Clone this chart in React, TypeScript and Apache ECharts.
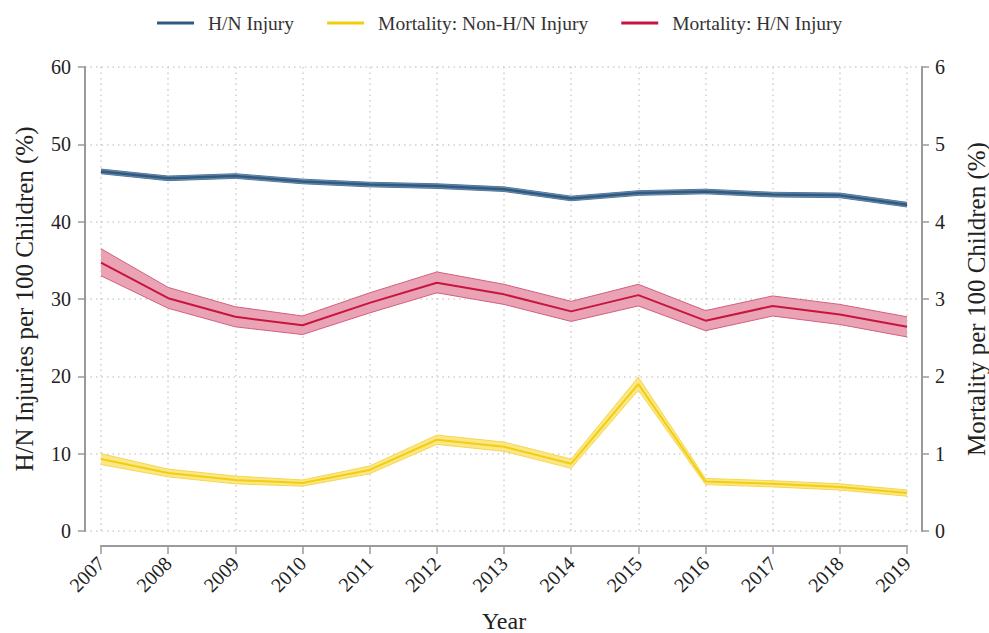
import React, { useEffect, useRef } from "react";
import * as echarts from "echarts";

const years = ["2007", "2008", "2009", "2010", "2011", "2012", "2013", "2014", "2015", "2016", "2017", "2018", "2019"];

// H/N injuries per 100 children (%), left axis
const hnInjury = [46.5, 45.6, 45.9, 45.2, 44.8, 44.6, 44.2, 43.0, 43.7, 43.9, 43.5, 43.4, 42.2];
const hnInjuryLow = [46.2, 45.3, 45.6, 44.9, 44.5, 44.3, 43.9, 42.7, 43.4, 43.6, 43.2, 43.1, 41.9];
const hnInjuryHigh = [46.8, 45.9, 46.2, 45.5, 45.1, 44.9, 44.5, 43.3, 44.0, 44.2, 43.8, 43.7, 42.5];

// Mortality per 100 children (%), right axis
const mortNonHN = [0.93, 0.75, 0.66, 0.62, 0.79, 1.18, 1.09, 0.87, 1.9, 0.64, 0.61, 0.57, 0.49];
const mortNonHNLow = [0.86, 0.7, 0.61, 0.58, 0.74, 1.12, 1.03, 0.81, 1.82, 0.6, 0.57, 0.53, 0.45];
const mortNonHNHigh = [1.0, 0.8, 0.71, 0.66, 0.84, 1.24, 1.15, 0.93, 1.99, 0.68, 0.65, 0.61, 0.53];

const mortHN = [3.47, 3.01, 2.77, 2.66, 2.95, 3.21, 3.06, 2.84, 3.05, 2.72, 2.91, 2.8, 2.64];
const mortHNLow = [3.3, 2.88, 2.64, 2.54, 2.82, 3.08, 2.93, 2.71, 2.91, 2.59, 2.78, 2.67, 2.51];
const mortHNHigh = [3.65, 3.15, 2.9, 2.78, 3.08, 3.35, 3.19, 2.97, 3.19, 2.85, 3.04, 2.93, 2.77];

const leftTicks = [0, 60, 10];
const rightTicks = [0, 6, 1];

const FONT = "'Liberation Serif', 'Times New Roman', serif";
// legend icon: 37px line followed by empty room before the text
const LEGEND_ICON = "path://M0,0 L37,0 L37,3 L0,3 Z M46,0 L46,3";

function band(
  key: string,
  low: number[],
  high: number[],
  yAxisIndex: number,
  fill: string,
  edge: string
) {
  const diff = high.map((h, i) => +(h - low[i]).toFixed(4));
  return [
    {
      name: key + "-low",
      type: "line",
      xAxisIndex: 1,
      yAxisIndex,
      stack: key,
      data: low,
      symbol: "none",
      silent: true,
      lineStyle: { color: edge, width: 1 },
      z: 2,
    },
    {
      name: key + "-band",
      type: "line",
      xAxisIndex: 1,
      yAxisIndex,
      stack: key,
      data: diff,
      symbol: "none",
      silent: true,
      lineStyle: { color: edge, width: 1 },
      areaStyle: { color: fill, opacity: 1 },
      z: 2,
    },
  ];
}

export default function App() {
  const ref = useRef<HTMLDivElement>(null);

  useEffect(() => {
    if (!ref.current) return;
    const chart = echarts.init(ref.current, undefined, { renderer: "svg" });
    const axisGray = "#9a9a9a";
    const option: any = {
      animation: false,
      textStyle: { fontFamily: FONT },
      legend: {
        top: 8,
        left: 152,
        itemWidth: 46,
        itemHeight: 3,
        itemGap: 33,
        icon: LEGEND_ICON,
        textStyle: { fontFamily: FONT, fontSize: 19.5, color: "#333" },
        data: [
          { name: "H/N Injury", itemStyle: { color: "#2f5a82" } },
          { name: "Mortality: Non-H/N Injury", itemStyle: { color: "#f2cf0e" } },
          { name: "Mortality: H/N Injury", itemStyle: { color: "#c8143f" } },
        ],
      },
      grid: [
        { left: 85, right: 67, top: 67, bottom: 102, outerBoundsMode: "none", containLabel: false },
        { left: 101, right: 82, top: 67, bottom: 102, outerBoundsMode: "none", containLabel: false },
      ],
      xAxis: [
        { gridIndex: 0, type: "value", show: false, min: 0, max: 1 },
        {
          gridIndex: 1,
          type: "category",
          position: "bottom",
          data: years,
          boundaryGap: false,
          offset: 15,
          name: "Year",
          nameLocation: "middle",
          nameGap: 63,
          nameMoveOverlap: false,
          nameTextStyle: { fontFamily: FONT, fontSize: 24, color: "#222" },
          axisLine: { show: true, onZero: false, lineStyle: { color: axisGray, width: 2 } },
          axisTick: { show: true, inside: false, length: 8, alignWithLabel: true, lineStyle: { color: axisGray, width: 1.5 } },
          axisLabel: { rotate: 45, margin: 14, fontFamily: FONT, fontSize: 20, color: "#222", interval: 0 },
          splitLine: { show: true, lineStyle: { color: "#cfcfcf", type: [1.5, 4], width: 1.5 } },
        },
      ],
      yAxis: [
        {
          gridIndex: 0,
          type: "value",
          min: leftTicks[0],
          max: leftTicks[1],
          interval: leftTicks[2],
          axisLine: { show: false },
          axisTick: { show: false },
          axisLabel: { show: false },
          splitLine: { show: true, lineStyle: { color: "#cfcfcf", type: [1.5, 4], width: 1.5 } },
        },
        {
          gridIndex: 1,
          type: "value",
          position: "left",
          offset: 16,
          min: leftTicks[0],
          max: leftTicks[1],
          interval: leftTicks[2],
          name: "H/N Injuries per 100 Children (%)",
          nameLocation: "middle",
          nameRotate: 90,
          nameGap: 48,
          nameTextStyle: { fontFamily: FONT, fontSize: 25, color: "#222" },
          axisLine: { show: true, onZero: false, lineStyle: { color: axisGray, width: 2 } },
          axisTick: { show: true, length: 7, lineStyle: { color: axisGray, width: 1.5 } },
          axisLabel: { margin: 14, fontFamily: FONT, fontSize: 20, color: "#222" },
          splitLine: { show: false },
        },
        {
          gridIndex: 1,
          type: "value",
          position: "right",
          offset: 15,
          min: rightTicks[0],
          max: rightTicks[1],
          interval: rightTicks[2],
          name: "Mortality per 100 Children (%)",
          nameLocation: "middle",
          nameRotate: 90,
          nameGap: 42,
          nameTextStyle: { fontFamily: FONT, fontSize: 25, color: "#222" },
          axisLine: { show: true, onZero: false, lineStyle: { color: axisGray, width: 2 } },
          axisTick: { show: true, length: 7, lineStyle: { color: axisGray, width: 1.5 } },
          axisLabel: { margin: 13, fontFamily: FONT, fontSize: 20, color: "#222" },
          splitLine: { show: false },
        },
      ],
      series: [
        ...band("hn", hnInjuryLow, hnInjuryHigh, 1, "#6f8fae", "#55779a"),
        ...band("nonhn", mortNonHNLow, mortNonHNHigh, 2, "#fbe68a", "#f6d84a"),
        ...band("mhn", mortHNLow, mortHNHigh, 2, "#e9a3b4", "#d45f7f"),
        {
          name: "H/N Injury",
          type: "line",
          xAxisIndex: 1,
          yAxisIndex: 1,
          data: hnInjury,
          symbol: "none",
          lineStyle: { color: "#2f5a82", width: 2.5 },
          itemStyle: { color: "#2f5a82" },
          z: 3,
        },
        {
          name: "Mortality: Non-H/N Injury",
          type: "line",
          xAxisIndex: 1,
          yAxisIndex: 2,
          data: mortNonHN,
          symbol: "none",
          lineStyle: { color: "#f2cf0e", width: 2 },
          itemStyle: { color: "#f2cf0e" },
          z: 3,
        },
        {
          name: "Mortality: H/N Injury",
          type: "line",
          xAxisIndex: 1,
          yAxisIndex: 2,
          data: mortHN,
          symbol: "none",
          lineStyle: { color: "#c8143f", width: 2 },
          itemStyle: { color: "#c8143f" },
          z: 3,
        },
      ],
    };
    chart.setOption(option);
    return () => chart.dispose();
  }, []);

  return <div ref={ref} style={{ width: 989, height: 633, position: "absolute", left: 0, top: 0, background: "#fff" }} />;
}
